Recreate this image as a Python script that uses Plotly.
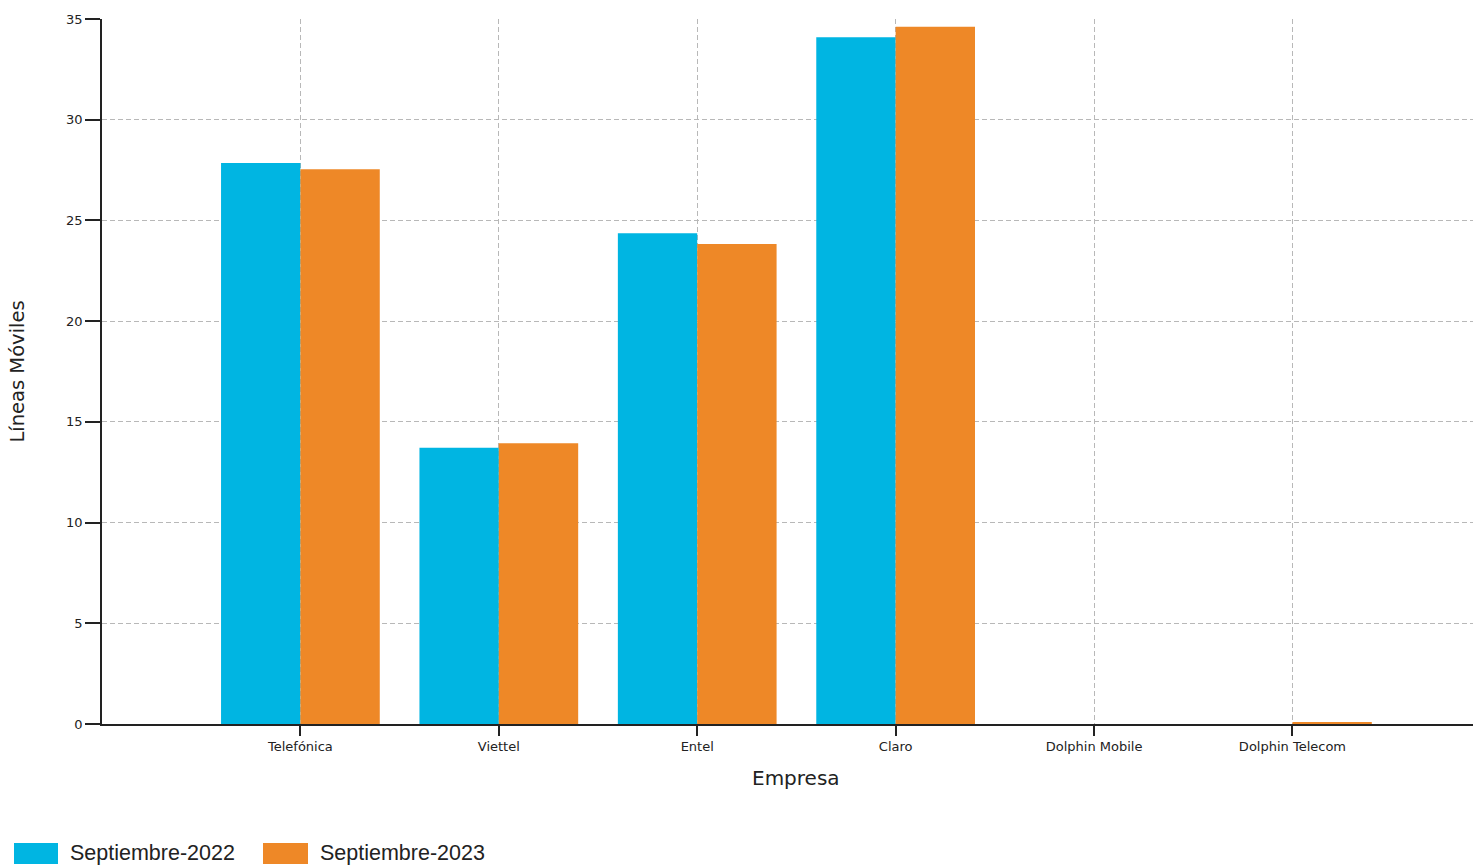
import plotly.graph_objects as go

empresas = ["Telefónica", "Viettel", "Entel", "Claro", "Dolphin Mobile", "Dolphin Telecom"]
series_names = ["Septiembre-2022", "Septiembre-2023"]
sep_2022 = [27.85, 13.72, 24.36, 34.09, 0.0, 0.0]
sep_2023 = [27.54, 13.94, 23.83, 34.62, 0.0, 0.1]
colors = ["#00B5E2", "#EE8827"]

W, H = 1473, 866
L, T, B, R = 102, 19, 142, 0
PW, PH = W - L - R, H - T - B

def px_x(p):
    return (p - L) / PW

def px_y(p):
    return (H - B - p) / PH

FONT = "Liberation Sans, Arial, sans-serif"
WIDE = "DejaVu Sans, Verdana, sans-serif"
GRID = "#b8b8b8"
TXT = "#222222"

fig = go.Figure()
for name, vals, c in zip(series_names, [sep_2022, sep_2023], colors):
    fig.add_trace(go.Bar(x=empresas, y=vals, name=name, marker=dict(color=c, line=dict(width=0)),
                         showlegend=False))

fig.update_layout(
    width=W, height=H,
    margin=dict(l=L, r=R, t=T, b=B, pad=0),
    plot_bgcolor="white", paper_bgcolor="white",
    barmode="group", bargap=0.2, bargroupgap=0,
    font=dict(family=FONT, color=TXT, size=12),
)
fig.update_xaxes(
    type="category", range=[-1, 5.91],
    showgrid=True, gridcolor=GRID, griddash="5px,3px", gridwidth=1,
    showline=True, linecolor=TXT, linewidth=1.5,
    ticks="outside", ticklen=10, tickcolor=TXT, tickwidth=1.5,
    tickfont=dict(size=13, family=WIDE, color=TXT),
)
fig.update_yaxes(
    range=[0, 35], dtick=5, tick0=0,
    showgrid=True, gridcolor=GRID, griddash="5px,3px", gridwidth=1,
    showline=True, linecolor=TXT, linewidth=1.5,
    ticks="outside", ticklen=15, tickcolor=TXT, tickwidth=1.5,
    tickfont=dict(size=13, family=WIDE, color=TXT),
    zeroline=False,
    title=dict(text="Líneas Móviles", font=dict(size=19.5, family=WIDE, color=TXT), standoff=36),
)

# x-axis title
fig.add_annotation(text="Empresa", xref="paper", yref="paper", x=px_x(796), y=px_y(778),
                   showarrow=False, xanchor="center", yanchor="middle",
                   font=dict(size=20, family=WIDE, color=TXT))

# legend
leg = [(14, 58, 68), (263, 308, 318)]
for (x0, x1, tx), name, c in zip(leg, series_names, colors):
    fig.add_shape(type="rect", xref="paper", yref="paper",
                  x0=px_x(x0), x1=px_x(x1), y0=px_y(864), y1=px_y(843),
                  fillcolor=c, line=dict(width=0))
    fig.add_annotation(text=name, xref="paper", yref="paper", x=px_x(tx), y=px_y(853),
                       showarrow=False, xanchor="left", yanchor="middle",
                       font=dict(size=21.5, family=FONT, color=TXT))

fig.write_html("out.html", config={"displayModeBar": False},
               post_script="document.body.style.margin='0px';document.body.style.overflow='hidden';")
